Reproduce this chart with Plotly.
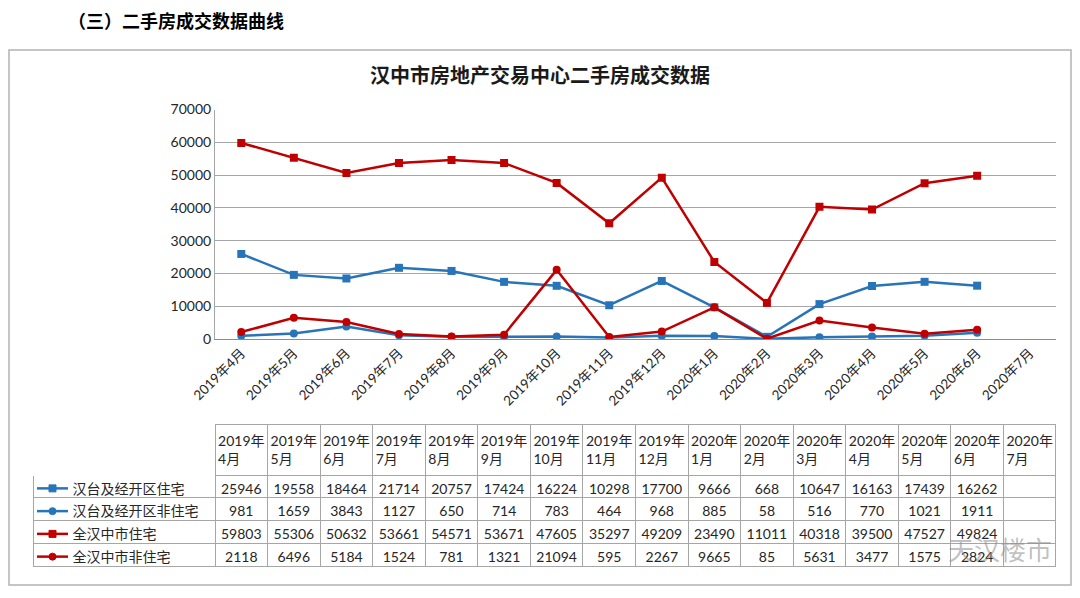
import plotly.graph_objects as go

categories = ["2019年4月", "2019年5月", "2019年6月", "2019年7月", "2019年8月", "2019年9月",
              "2019年10月", "2019年11月", "2019年12月", "2020年1月", "2020年2月", "2020年3月",
              "2020年4月", "2020年5月", "2020年6月", "2020年7月"]
header_labels = ["2019年<br>4月", "2019年<br>5月", "2019年<br>6月", "2019年<br>7月", "2019年<br>8月",
                 "2019年<br>9月", "2019年<br>10月", "2019年<br>11月", "2019年<br>12月", "2020年<br>1月",
                 "2020年<br>2月", "2020年<br>3月", "2020年<br>4月", "2020年<br>5月", "2020年<br>6月",
                 "2020年<br>7月"]

series_names = ["汉台及经开区住宅", "汉台及经开区非住宅", "全汉中市住宅", "全汉中市非住宅"]
hantai_res = [25946, 19558, 18464, 21714, 20757, 17424, 16224, 10298, 17700, 9666, 668, 10647, 16163, 17439, 16262, None]
hantai_nonres = [981, 1659, 3843, 1127, 650, 714, 783, 464, 968, 885, 58, 516, 770, 1021, 1911, None]
city_res = [59803, 55306, 50632, 53661, 54571, 53671, 47605, 35297, 49209, 23490, 11011, 40318, 39500, 47527, 49824, None]
city_nonres = [2118, 6496, 5184, 1524, 781, 1321, 21094, 595, 2267, 9665, 85, 5631, 3477, 1575, 2824, None]

y_ticks = [0, 10000, 20000, 30000, 40000, 50000, 60000, 70000]

BLUE = "#2874b8"
RED = "#c00000"
series = [
    (series_names[0], hantai_res, BLUE, "square"),
    (series_names[1], hantai_nonres, BLUE, "circle"),
    (series_names[2], city_res, RED, "square"),
    (series_names[3], city_nonres, RED, "circle"),
]

# page has an 8px body margin; the figure fills the rest of the 1080x598 window
OFF = 8
W, H = 1080 - OFF, 598 - OFF
def px(x):
    return (x - OFF) / W
def py(y):
    return 1 - (y - OFF) / H

NUM_FONT = "Lato, 'Noto Sans CJK SC', sans-serif"
CJK_FONT = "'Noto Sans CJK SC', sans-serif"

fig = go.Figure()

for name, vals, color, sym in series:
    fig.add_trace(go.Scatter(
        x=categories, y=vals, name=name, mode="lines+markers",
        line=dict(color=color, width=2.5),
        marker=dict(symbol=sym, size=8, color=color),
        showlegend=False,
    ))

# data table
TABLE_TOP = 424
HEADER_H = 53
ROW_H = 22.75
INDENT = "\u2003\u2003\u2003"
first_col = [INDENT + s[0] for s in series]
cols = [first_col]
for i in range(len(categories)):
    cols.append(["" if s[1][i] is None else str(s[1][i]) for s in series])

fig.add_trace(go.Table(
    domain=dict(x=[px(33), px(1056)], y=[py(TABLE_TOP + HEADER_H + 4 * ROW_H + 4), py(TABLE_TOP)]),
    columnwidth=[182] + [52.56] * len(categories),
    header=dict(
        values=[""] + header_labels,
        align="center",
        height=44,
        fill=dict(color="white"),
        line=dict(color=["white"] + ["#a6a6a6"] * len(categories), width=1),
        font=dict(family=NUM_FONT, size=14, color="#262626"),
    ),
    cells=dict(
        values=cols,
        align=["left"] + ["center"] * len(categories),
        height=ROW_H,
        fill=dict(color="white"),
        line=dict(color="#a6a6a6", width=1),
        font=dict(family=NUM_FONT, size=14, color="#262626"),
    ),
))

# chart border and legend keys inside the first table column
shapes = [
    dict(type="rect", xref="paper", yref="paper",
         x0=px(9), x1=px(1071), y0=py(585), y1=py(50),
         line=dict(color="#b3b3b3", width=1.5), fillcolor="rgba(0,0,0,0)", layer="below"),
]
for i, (name, vals, color, sym) in enumerate(series):
    yc = TABLE_TOP + HEADER_H + ROW_H * (i + 0.5)
    shapes.append(dict(type="line", xref="paper", yref="paper",
                       x0=px(37), x1=px(68), y0=py(yc), y1=py(yc),
                       line=dict(color=color, width=2.5)))
    kind = "rect" if sym == "square" else "circle"
    shapes.append(dict(type=kind, xref="paper", yref="paper",
                       x0=px(49), x1=px(56), y0=py(yc + 3.5), y1=py(yc - 3.5),
                       line=dict(color=color, width=1), fillcolor=color))

fig.update_layout(
    width=W, height=H,
    margin=dict(l=0, r=0, t=0, b=0, autoexpand=False),
    paper_bgcolor="white",
    plot_bgcolor="white",
    xaxis=dict(
        domain=[px(215), px(1056)],
        type="category",
        categoryorder="array",
        categoryarray=categories,
        range=[-0.5, len(categories) - 0.5],
        tickangle=-45,
        showgrid=False,
        showline=True,
        linecolor="#8c8c8c",
        linewidth=1,
        ticks="",
        automargin=False,
        tickfont=dict(family=NUM_FONT, size=13.5, color="#262626"),
        anchor="y",
    ),
    yaxis=dict(
        domain=[py(339), py(109.5)],
        range=[0, 70000],
        tickvals=y_ticks,
        ticktext=[str(v) for v in y_ticks],
        showgrid=True,
        gridcolor="#a6a6a6",
        gridwidth=1,
        showline=True,
        linecolor="#a6a6a6",
        linewidth=1,
        zeroline=False,
        ticks="",
        automargin=False,
        tickfont=dict(family=NUM_FONT, size=14, color="#262626"),
    ),
    shapes=shapes,
    annotations=[
        dict(text="<b>（三）二手房成交数据曲线</b>", x=px(66), y=py(20), xref="paper", yref="paper",
             xanchor="left", yanchor="middle", showarrow=False,
             font=dict(family=CJK_FONT, size=18, color="#000000")),
        dict(text="<b>汉中市房地产交易中心二手房成交数据</b>", x=px(540), y=py(75), xref="paper", yref="paper",
             xanchor="center", yanchor="middle", showarrow=False,
             font=dict(family=CJK_FONT, size=20, color="#1a1a1a")),
        dict(text="天汉楼市", x=px(1000), y=py(548), xref="paper", yref="paper",
             xanchor="center", yanchor="middle", showarrow=False,
             font=dict(family=CJK_FONT, size=26, color="rgba(140,140,140,0.55)")),
    ],
)

fig.write_html("out.html")
